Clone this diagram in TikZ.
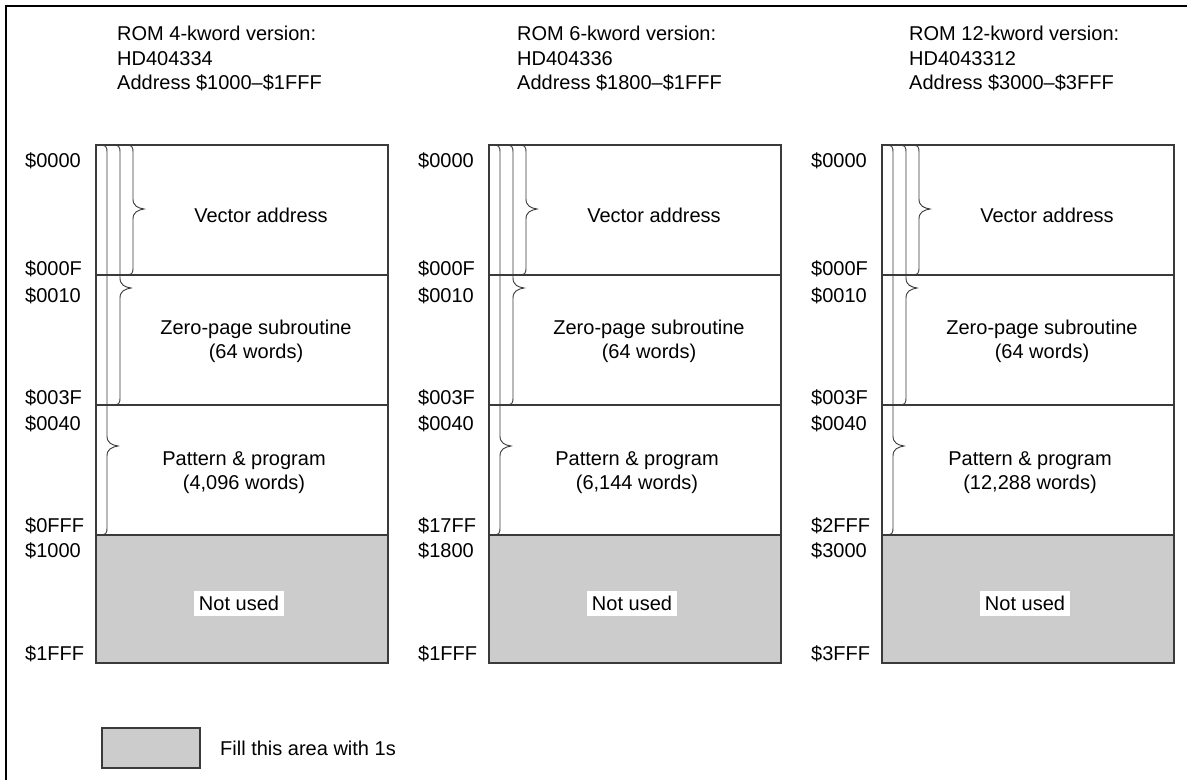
\documentclass[tikz,border=0pt]{standalone}
\usepackage{fontspec}
\setmainfont{Liberation Sans}
\definecolor{unused}{HTML}{CCCCCC}
\definecolor{edge}{HTML}{3A3A3A}
\tikzset{
  frameline/.style={draw=black, line width=1.4pt},
  memline/.style={draw=edge, line width=1.2pt},
  bracestyle/.style={draw=edge, line width=0.9pt},
  txt/.style={inner sep=0pt, anchor=base},
  addr/.style={inner sep=0pt, anchor=base west},
  hdr/.style={inner sep=0pt, anchor=base west},
  nulabel/.style={fill=white, anchor=base, inner xsep=4.5pt, inner ysep=5pt, text height=14.5pt, text depth=0.5pt},
}
% brace: #1 base x, #2 top y, #3 bottom y, #4 tip y
\newcommand\rombrace[4]{%
  \draw[bracestyle] (#1,#2) .. controls ({#1+11},#2) .. ({#1+11},{#2+10})
    -- ({#1+11},{#4-10}) .. controls ({#1+11},{#4-3}) and ({#1+16},{#4-1}) .. ({#1+22},#4)
    .. controls ({#1+16},{#4+1}) and ({#1+11},{#4+3}) .. ({#1+11},{#4+10})
    -- ({#1+11},{#3-10}) .. controls ({#1+11},#3) .. (#1,#3);}
% column: #1 id, #2 x0, #3 header x, #4 kword, #5 part, #6 range, #7 end pattern, #8 start unused, #9 end unused
\newcommand\romcolumn[9]{%
  \fill[unused] (#2,535) rectangle ({#2+292},663);
  \draw[memline] (#2,145) rectangle ({#2+292},663);
  \draw[memline] (#2,275) -- ({#2+292},275);
  \draw[memline] (#2,405) -- ({#2+292},405);
  \draw[memline] (#2,535) -- ({#2+292},535);
  \rombrace{#2}{145}{535}{446}
  \rombrace{#2+13}{145}{405}{288}
  \rombrace{#2+26}{145}{275}{209}
  \node[hdr] (h1#1) at (#3,40.7) {ROM #4-kword version:};
  \node[hdr] (h2#1) at (#3,65) {#5};
  \node[hdr] (h3#1) at (#3,89.3) {Address #6};
  \node[addr] (a0#1) at ({#2-71},167) {\$0000};
  \node[addr] (a1#1) at ({#2-71},275) {\$000F};
  \node[addr] (a2#1) at ({#2-71},302) {\$0010};
  \node[addr] (a3#1) at ({#2-71},404) {\$003F};
  \node[addr] (a4#1) at ({#2-71},430) {\$0040};
  \node[addr] (a5#1) at ({#2-71},532) {#7};
  \node[addr] (a6#1) at ({#2-71},557) {#8};
  \node[addr] (a7#1) at ({#2-71},660) {#9};
  \node[txt] (va#1) at ({#2+165},222) {Vector address};
  \node[txt] (zp#1) at ({#2+160},334.3) {Zero-page subroutine};
  \node[txt] (zw#1) at ({#2+160},358.3) {(64 words)};
  \node[txt] (pp#1) at ({#2+148},465.7) {Pattern \& program};
  \node[txt] (pw#1) at ({#2+148},489.7) {(\romwords\ words)};
  \node[nulabel] (nu#1) at ({#2+143},610) {Not used};
}
\begin{document}
\begin{tikzpicture}[x=1pt,y=-1pt,font=\fontsize{20}{24}\selectfont]
\useasboundingbox (0,0) rectangle (1187,780);
\fill[white] (0,0) rectangle (1187,780);
\draw[frameline] (6,780) -- (6,6) -- (1187,6);
\def\romwords{4,096}
\romcolumn{A}{96}{117}{4}{HD404334}{\$1000–\$1FFF}{\$0FFF}{\$1000}{\$1FFF}
\def\romwords{6,144}
\romcolumn{B}{489}{517}{6}{HD404336}{\$1800–\$1FFF}{\$17FF}{\$1800}{\$1FFF}
\def\romwords{12,288}
\romcolumn{C}{882}{909}{12}{HD4043312}{\$3000–\$3FFF}{\$2FFF}{\$3000}{\$3FFF}
\draw[memline, fill=unused] (102,728) rectangle (200,768);
\node[addr] (legend) at (220,755) {Fill this area with 1s};
\end{tikzpicture}
\end{document}
